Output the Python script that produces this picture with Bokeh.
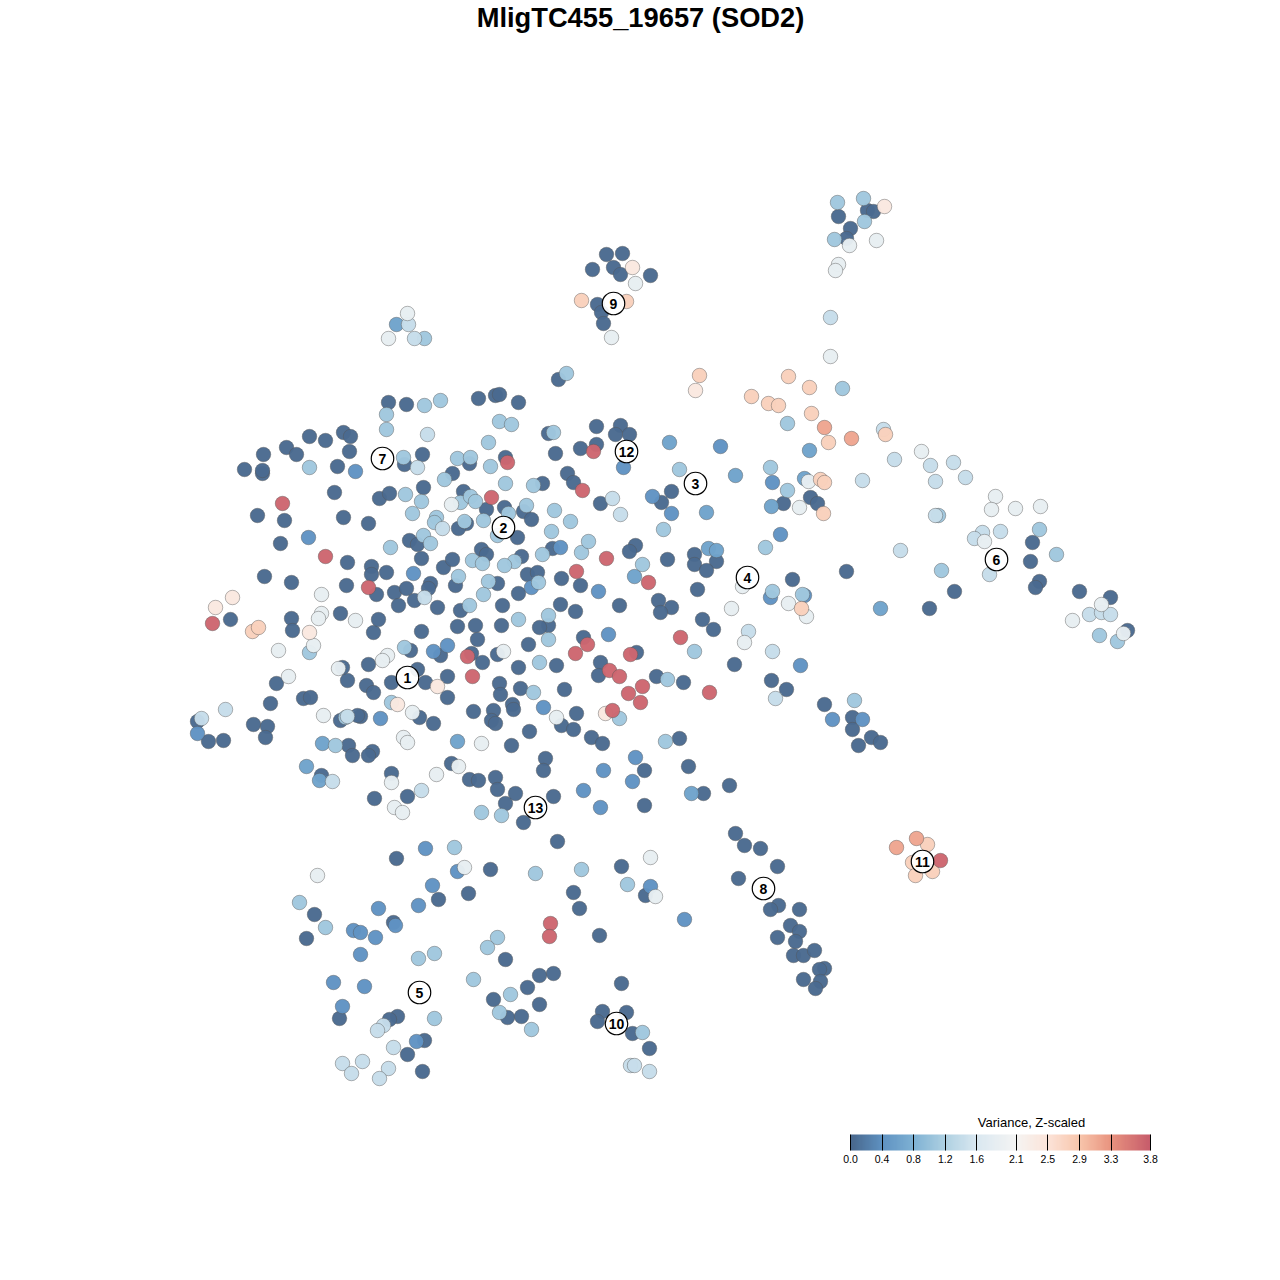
import numpy as np
from bokeh.plotting import figure
from bokeh.models import ColumnDataSource, LinearColorMapper, ColorBar, FixedTicker, PrintfTickFormatter, Range1d
from bokeh.core.properties import value
from bokeh.embed import file_html
from bokeh.resources import INLINE

title = "MligTC455_19657 (SOD2)"
legend_title = "Variance, Z-scaled"
legend_ticks = [0.0, 0.4, 0.8, 1.2, 1.6, 2.1, 2.5, 2.9, 3.3, 3.8]
palette_values = [0.0, 0.4, 0.8, 1.2, 1.6, 2.1, 2.5, 2.9, 3.3, 3.8]
palette_colors = ["#48678c", "#5f92c2", "#7fb2d4", "#afd1e2", "#dae8f1", "#f5f4f3", "#fce4d9", "#f8c6ac", "#e9937f", "#c75c6b"]

dark = [(867,210),(873,211),(838,216),(850,228),(846,238),
(606,254),(622,253),(613,267),(592,269),(620,274),(650,275),(597,304),(601,312),(603,323),
(558,379),(783,503),(810,497),(817,503),(1032,542),(1030,561),(846,571),(1039,581),(1035,587),(954,591),(929,608),(1079,591),(1110,597),(1127,630),
(671,491),(661,502),(694,554),(694,564),(716,561),(706,570),(667,559),(697,589),(658,600),(671,607),(660,612),(619,605),(702,619),(713,629),(792,579),(734,664),(771,680),(786,689),(824,704),(852,717),(852,729),(871,737),(880,742),(858,745),(683,682),(656,676),
(735,833),(744,845),(760,848),(777,866),(738,878),(778,905),(770,909),(799,909),(790,925),(799,931),(777,937),(795,941),(793,955),(803,955),(814,950),(824,968),(819,969),(803,979),(820,981),(815,988),
(729,785),(688,766),(703,793),(679,738),(644,770),(644,805),
(621,983),(602,1011),(626,1012),(597,1021),(632,1033),(649,1048),
(557,841),(621,866),(490,869),(396,858),(645,895),(573,892),(579,908),(468,893),(438,899),(314,914),(393,922),(306,938),(599,935),(505,959),(539,975),(553,973),(527,987),(493,999),(539,1004),(507,1017),(521,1016),(397,1016),(389,1019),(339,1018),(424,1040),(407,1054),(422,1071),
(197,721),(208,741),(223,740),(253,724),(267,726),(265,737),(270,703),(276,683),(303,698),(310,697),(230,619),(291,618),(292,630),(340,613),(373,632),(378,619),(291,582),(264,576),(346,585),(347,562),
(244,469),(262,473),(262,470),(263,454),(286,447),(296,454),(309,436),(325,440),(343,432),(350,436),(349,451),(337,466),(334,492),(257,515),(284,520),(280,543),(343,517),
(388,402),(406,404),(478,398),(495,395),(499,394),(518,402),(548,433),(596,426),(620,425),(615,434),(629,434),(580,448),(596,444),
(404,464),(422,454),(469,463),(505,457),(555,453),(452,473),(542,483),(567,473),(573,482),(379,498),(389,493),(423,487),(463,491),(486,509),(504,507),(523,511),(531,519),(600,503),
(368,523),(466,523),(458,528),(517,537),(409,540),(417,544),(421,558),(481,549),(486,554),(443,567),(452,559),(521,556),(552,548),(635,545),(629,551),(580,585),(561,578),
(371,566),(371,574),(386,572),(376,594),(394,592),(406,588),(430,583),(428,588),(414,600),(398,605),(437,607),(455,585),(497,583),(518,593),(527,574),(537,572),(460,610),(502,605),(560,604),(575,611),
(548,625),(539,627),(421,631),(457,626),(475,625),(501,625),(477,639),(528,644),(583,637),(636,652),(410,650),(440,655),(471,653),(482,662),(497,654),(518,667),(556,665),(368,664),(417,669),(600,662),(598,675),
(366,685),(373,692),(391,682),(425,682),(447,676),(499,683),(500,694),(520,688),(564,689),(447,697),(419,717),(433,723),(360,716),(473,711),(493,710),(512,704),(513,709),(491,720),(495,723),(576,713),(561,725),(573,729),(529,731),(591,737),(602,743),(511,745),
(347,680),(342,667),(357,715),(340,720),(348,745),(352,755),(372,751),(368,755),(321,775),(391,773),(451,763),(407,796),(374,798),(469,779),(478,780),(495,777),(497,789),(515,793),(553,796),(505,803),(523,822),(545,758),(543,770)]
blue = [(720,446),(772,482),(652,496),(671,513),(780,534),(770,597),(804,595),(800,665),(832,719),(862,719),(635,757),(632,781),(603,770),(583,790),(600,807),(650,886),(684,919),
(457,871),(425,848),(432,885),(418,905),(378,908),(395,925),(353,930),(360,932),(375,937),(360,954),(333,982),(364,986),(342,1006),(416,1041),(197,733),(308,537),(355,471),(623,467),(560,547),(598,591),(413,573),(531,587),(608,634),(433,651),(447,645),(543,707),(380,718)]
mid = [(669,442),(735,475),(706,512),(708,548),(716,550),(634,576),(880,608),(691,793),(396,324),(809,450),(804,478),(771,506),(322,743),(306,766),(319,780),(457,741)]
light = [(863,198),(837,202),(864,221),(834,239),(424,338),(566,373),(842,388),(787,423),(770,467),(787,490),(938,515),(1039,529),(1056,554),(941,570),(1099,635),(1117,641),
(679,469),(663,529),(765,547),(642,564),(772,591),(802,594),(694,651),(854,700),(667,679),(665,741),
(642,1032),(581,869),(535,873),(454,847),(627,884),(299,902),(325,927),(497,937),(487,947),(434,953),(418,958),(473,979),(510,994),(499,1012),(531,1029),(434,1018),
(309,467),(309,652),(424,405),(440,400),(386,414),(386,429),(499,421),(511,424),(488,442),(553,432),
(403,457),(457,458),(470,457),(490,466),(444,479),(505,483),(533,485),(405,494),(421,501),(412,513),(460,502),(470,496),(475,501),(526,505),(508,513),(554,510),(436,517),(434,522),(464,521),(483,520),(497,535),(551,531),(570,521),
(423,535),(430,543),(390,547),(472,560),(482,563),(514,561),(504,565),(542,554),(581,552),(588,541),(458,576),(488,581),(483,594),(538,582),(469,605),(548,615),(518,619),(548,639),(404,647),(539,662),(533,692),(391,702),(619,718),
(345,717),(335,745),(481,812),(501,815)]
pale = [(830,317),(408,324),(414,338),(883,429),(862,480),(894,459),(930,465),(953,462),(935,481),(965,477),(935,515),(1000,531),(982,532),(974,538),(900,550),(989,574),(1089,614),(1101,612),(1110,614),
(748,631),(772,651),(775,698),(630,1065),(634,1065),(649,1071),(383,1025),(377,1030),(393,1047),(342,1063),(362,1061),(388,1068),(351,1073),(379,1078),
(201,718),(225,709),(427,434),(417,467),(612,498),(620,514),(442,528),(424,597),(347,716),(332,781),(421,790)]
white = [(849,245),(876,240),(838,264),(835,270),(830,356),(635,283),(611,337),(407,313),(388,338),(808,481),(799,507),(921,451),(995,496),(991,509),(1015,508),(1040,506),(984,541),(1101,604),(1072,620),(1123,633),
(742,586),(731,608),(788,603),(806,616),(744,642),(650,857),(464,867),(317,875),(655,896),(288,676),(278,650),(313,645),(321,594),(321,613),(318,618),(355,620),
(451,504),(387,655),(382,660),(503,651),(338,668),(412,712),(556,717),(403,737),(407,742),(481,743),(323,715),(391,782),(436,774),(458,766),(394,807),(402,812)]
cream = [(884,206),(632,267),(695,390),(215,607),(232,597),(309,632),(437,686),(397,704),(605,713)]
peach = [(581,300),(626,301),(699,375),(751,396),(788,376),(809,387),(768,403),(778,405),(811,413),(828,442),(885,434),(820,479),(824,482),(823,513),(801,608),(927,844),(912,862),(915,875),(932,871),(252,631),(258,627)]
salmon = [(824,427),(851,438),(896,847),(916,838)]
red = [(940,860),(507,462),(593,451),(582,490),(491,497),(606,558),(576,571),(648,582),(680,637),(587,644),(575,653),(630,654),(609,670),(619,676),(472,676),(467,656),(642,686),(628,693),(640,702),(612,710),(709,692),(550,923),(549,936),(282,503),(325,556),(368,587),(212,623)]

band_values = [0.03, 0.42, 0.62, 1.08, 1.42, 1.85, 2.4, 2.75, 3.15, 3.7]
bands = [dark, blue, mid, light, pale, white, cream, peach, salmon, red]

label_text = ["1","2","3","4","5","6","7","8","9","10","11","12","13"]
label_x = [407,503,695,747,419,996,382,763,613,616,922,626,535]
label_y = [677,527,483,577,992,559,458,888,303,1023,861,451,807]

grid = np.linspace(0, 3.8, 256)
rgb = np.array([[int(c[i:i+2], 16) for i in (1, 3, 5)] for c in palette_colors], float)
palette = ["#%02x%02x%02x" % tuple(int(round(np.interp(g, palette_values, rgb[:, k]))) for k in range(3)) for g in grid]
mapper = LinearColorMapper(palette=palette, low=0.0, high=3.8)

p = figure(width=1264, height=1264, output_backend="svg", toolbar_location=None,
           x_range=Range1d(0, 1264), y_range=Range1d(1264, 0), min_border=0,
           outline_line_color=None, background_fill_color="white")
p.axis.visible = False
p.grid.visible = False

xs, ys, vs = [], [], []
for b, v in zip(bands, band_values):
    for (x, y) in b:
        xs.append(x); ys.append(y); vs.append(v)
src = ColumnDataSource(dict(x=xs, y=ys, v=vs))
p.scatter("x", "y", source=src, size=14.5, fill_color={"field": "v", "transform": mapper},
          fill_alpha=0.97, line_color="#555555", line_alpha=0.55, line_width=0.8)

p.scatter(label_x, label_y, size=22.5, fill_color="white", fill_alpha=0.92, line_color="black", line_width=1.2)
p.text(label_x, label_y, text=label_text, text_font=value("Liberation Sans"), text_font_style="bold",
       text_font_size="14px", text_align="center", text_baseline="middle", text_color="black")

p.text([640], [17], text=[title], text_font=value("Liberation Sans"), text_font_style="bold",
       text_font_size="27.3px", text_align="center", text_baseline="middle", text_color="black")
p.text([1031], [1122], text=[legend_title], text_font=value("Liberation Sans"),
       text_font_size="13px", text_align="center", text_baseline="middle", text_color="black")

cb = ColorBar(color_mapper=mapper, location=(850, 99), width=300, height=16, padding=0,
              orientation="horizontal", ticker=FixedTicker(ticks=legend_ticks),
              formatter=PrintfTickFormatter(format="%.1f"),
              major_tick_in=16, major_tick_out=0, major_tick_line_color="black", major_tick_line_width=1,
              minor_tick_line_color=None, bar_line_color=None, border_line_color=None,
              major_label_text_font="Liberation Sans", major_label_text_font_size="10.5px",
              major_label_text_color="black", label_standoff=4, background_fill_color=None)
p.add_layout(cb, "center")

open("out.html", "w").write(file_html(p, INLINE))
